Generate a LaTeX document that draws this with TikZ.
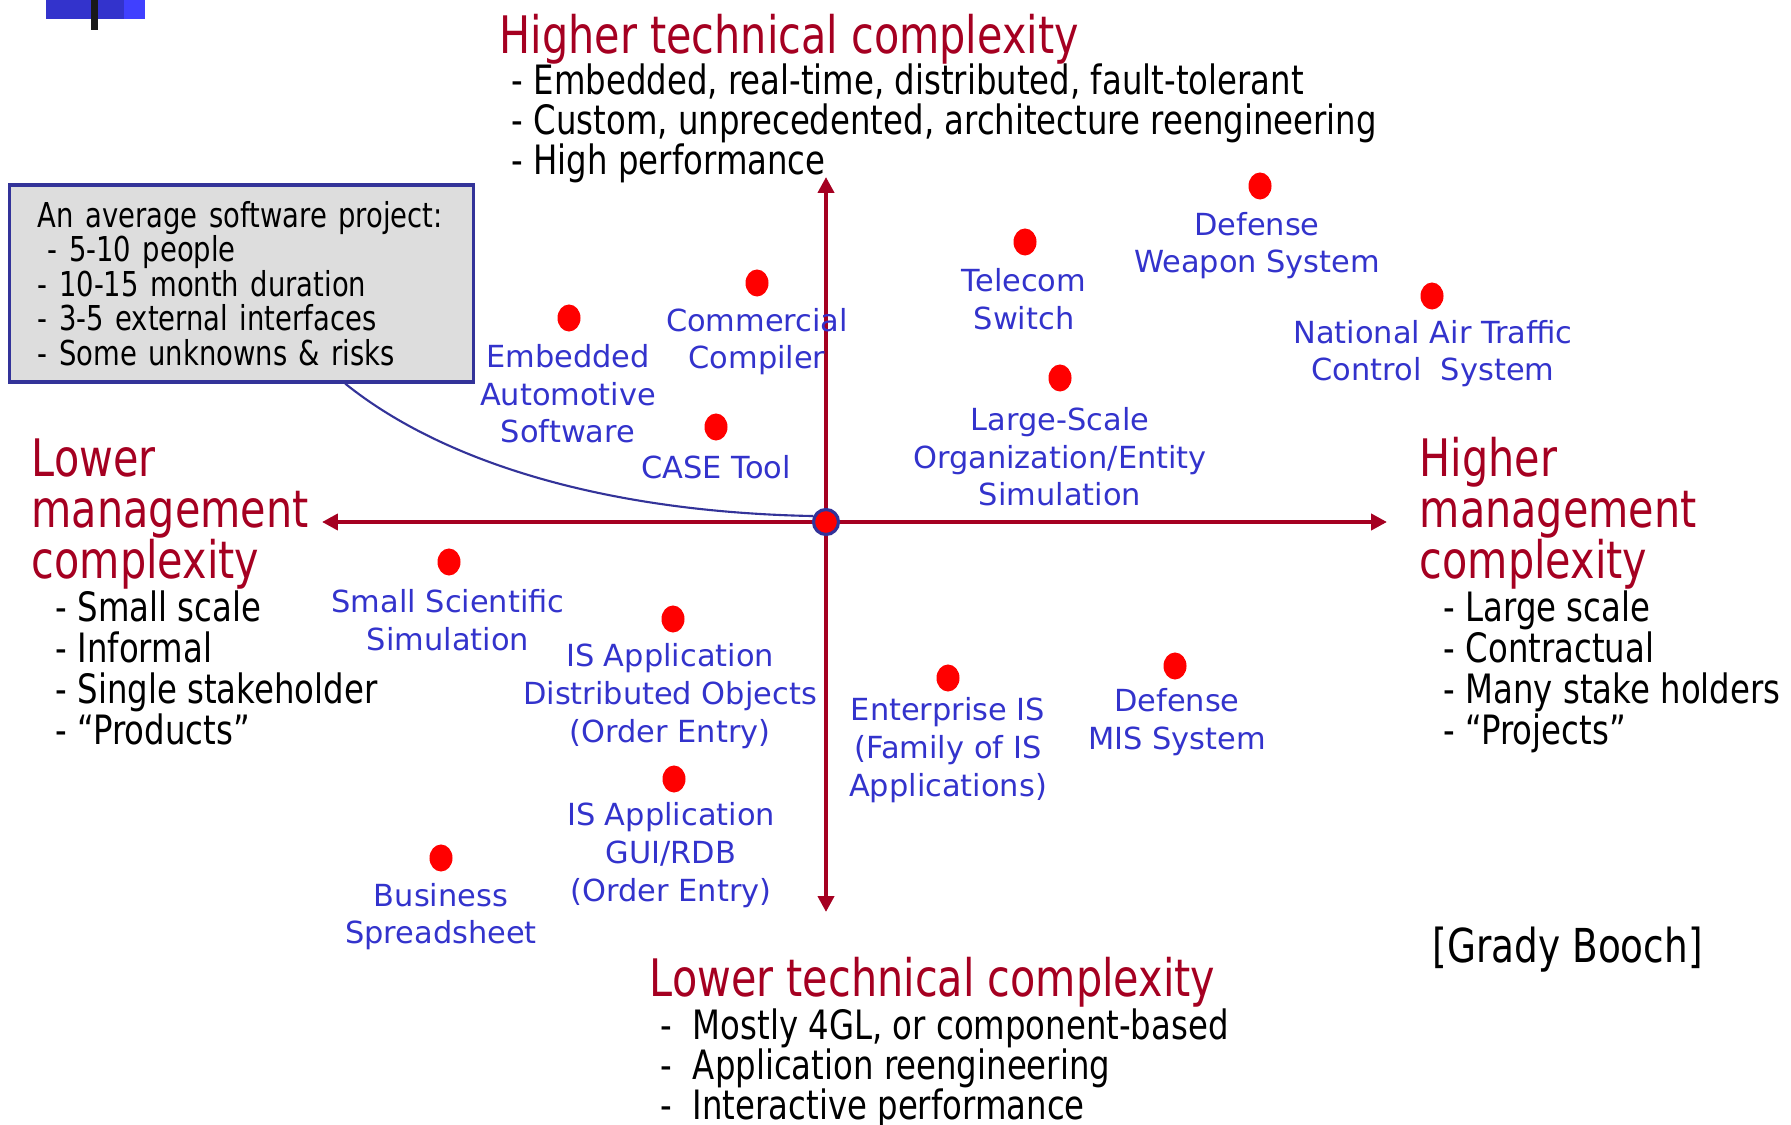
\documentclass[tikz,border=0pt]{standalone}
\usepackage{fontspec}
\setmainfont{DejaVu Sans}
\newfontfamily\narrowfont[FakeStretch=0.8]{DejaVu Sans}
\usetikzlibrary{arrows.meta,shapes.geometric}

\definecolor{darkred}{HTML}{A50021}
\definecolor{projblue}{HTML}{3333CC}
\definecolor{dotred}{HTML}{FF0000}
\definecolor{boxblue}{HTML}{333399}
\definecolor{boxgray}{HTML}{DDDDDD}

\tikzset{
  head/.style={font=\narrowfont\fontsize{14.7}{14.8}\selectfont, text=darkred, inner sep=0pt, anchor=base west},
  item/.style={font=\narrowfont\fontsize{11.5}{11.4}\selectfont, inner sep=0pt, anchor=base west},
  proj/.style={font=\fontsize{8.65}{10.7}\selectfont, text=projblue, align=center, inner sep=0pt},
  dot/.style={ellipse, fill=dotred, minimum width=0.23cm, minimum height=0.27cm, inner sep=0pt},
  axis/.style={darkred, line width=1.4pt, {Triangle[length=4.5pt,width=4.5pt]}-{Triangle[length=4.5pt,width=4.5pt]}},
  avgbox/.style={draw=boxblue, line width=0.9pt, fill=boxgray, align=left, text width=4.07cm,
    inner xsep=0.28cm, minimum height=1.97cm, font=\narrowfont\fontsize{9.75}{9.8}\selectfont}
}

\begin{document}
\begin{tikzpicture}[x=0.01cm, y=-0.01cm]
\useasboundingbox (0,0) rectangle (1791,1125);

% slide corner mark
\fill[projblue] (46,0) rectangle (124,19);
\fill[blue!75] (124,0) rectangle (145,19);
\fill[black!90] (91,0) rectangle (98,30);

% axes
\coordinate (xl) at (322,522);
\coordinate (xr) at (1387,522);
\coordinate (yt) at (826,177);
\coordinate (yb) at (826,912);
\draw[axis] (xl) -- (xr);
\draw[axis] (yb) -- (yt);
\node[circle, draw=boxblue, line width=0.9pt, fill=dotred, minimum size=0.25cm, inner sep=0pt] (origin) at (826,522) {};

% axis headings
\node[head] (tech-hi) at (499,54) {Higher technical complexity};
\foreach \txt [count=\i] in {{- Embedded, real-time, distributed, fault-tolerant},
    {- Custom, unprecedented, architecture reengineering}, {- High performance}}
  \node[item] (tech-hi-\i) at (511,{95+40*(\i-1)}) {\txt};

\node[head] (tech-lo) at (649,996) {Lower technical complexity};
\foreach \txt [count=\i] in {{Mostly 4GL, or component-based}, {Application reengineering}, {Interactive performance}}
  \node[item] (tech-lo-\i) at (660,{1039+40*(\i-1)}) {-~~\txt};

\foreach \txt [count=\i] in {Lower, management, complexity}
  \node[head] (mgmt-lo-h\i) at (31,{477+51*(\i-1)}) {\txt};
\foreach \txt [count=\i] in {Small scale, Informal, Single stakeholder, “Products”}
  \node[item] (mgmt-lo-\i) at (55,{622+40.7*(\i-1)}) {- \txt};

\foreach \txt [count=\i] in {Higher, management, complexity}
  \node[head] (mgmt-hi-h\i) at (1419,{477+51*(\i-1)}) {\txt};
\foreach \txt [count=\i] in {Large scale, Contractual, Many stake holders, “Projects”}
  \node[item] (mgmt-hi-\i) at (1443,{622+40.7*(\i-1)}) {- \txt};

% average project
\node[avgbox] (avg) at (241.5,283.5) {An average software project:\\\hspace{0.1cm}- 5-10 people\\- 10-15 month duration\\- 3-5 external interfaces\\- Some unknowns \& risks};
\draw[boxblue, line width=0.6pt] (avg.-44) .. controls (440,460) and (600,512) .. (origin.155);

% projects
\foreach \name/\dx/\dy/\lx/\ly/\txt in {
    emb/569/318/568/394/{Embedded\\Automotive\\Software},
    comp/757/283/757/341.5/{Commercial\\Compiler},
    case/716/427/716/467/{CASE Tool},
    tele/1025/242/1024/299/{Telecom\\Switch},
    weap/1260/186/1257/245.5/{Defense\\Weapon System},
    atc/1432/296/1433/353.5/{National Air Traffic\\Control\ \ System},
    sim/1060/378/1060/457/{Large-Scale\\Organization/Entity\\Simulation},
    sci/449/562/448/620/{Small Scientific\\Simulation},
    isdo/673/619/670/696/{IS Application\\Distributed Objects\\(Order Entry)},
    ent/948/678/948/750/{Enterprise IS\\(Family of IS\\Applications)},
    mis/1175/666/1177/722/{Defense\\MIS System},
    isgui/674/779/671/855/{IS Application\\GUI/RDB\\(Order Entry)},
    spread/441/858/441/916.5/{Business\\Spreadsheet}}
{
  \node[dot] (\name) at (\dx,\dy) {};
  \node[proj] (\name-lbl) at (\lx,\ly) {\txt};
}

\node[item, font=\narrowfont\fontsize{13.3}{13.3}\selectfont] (src) at (1432,962) {[Grady Booch]};
\end{tikzpicture}
\end{document}
